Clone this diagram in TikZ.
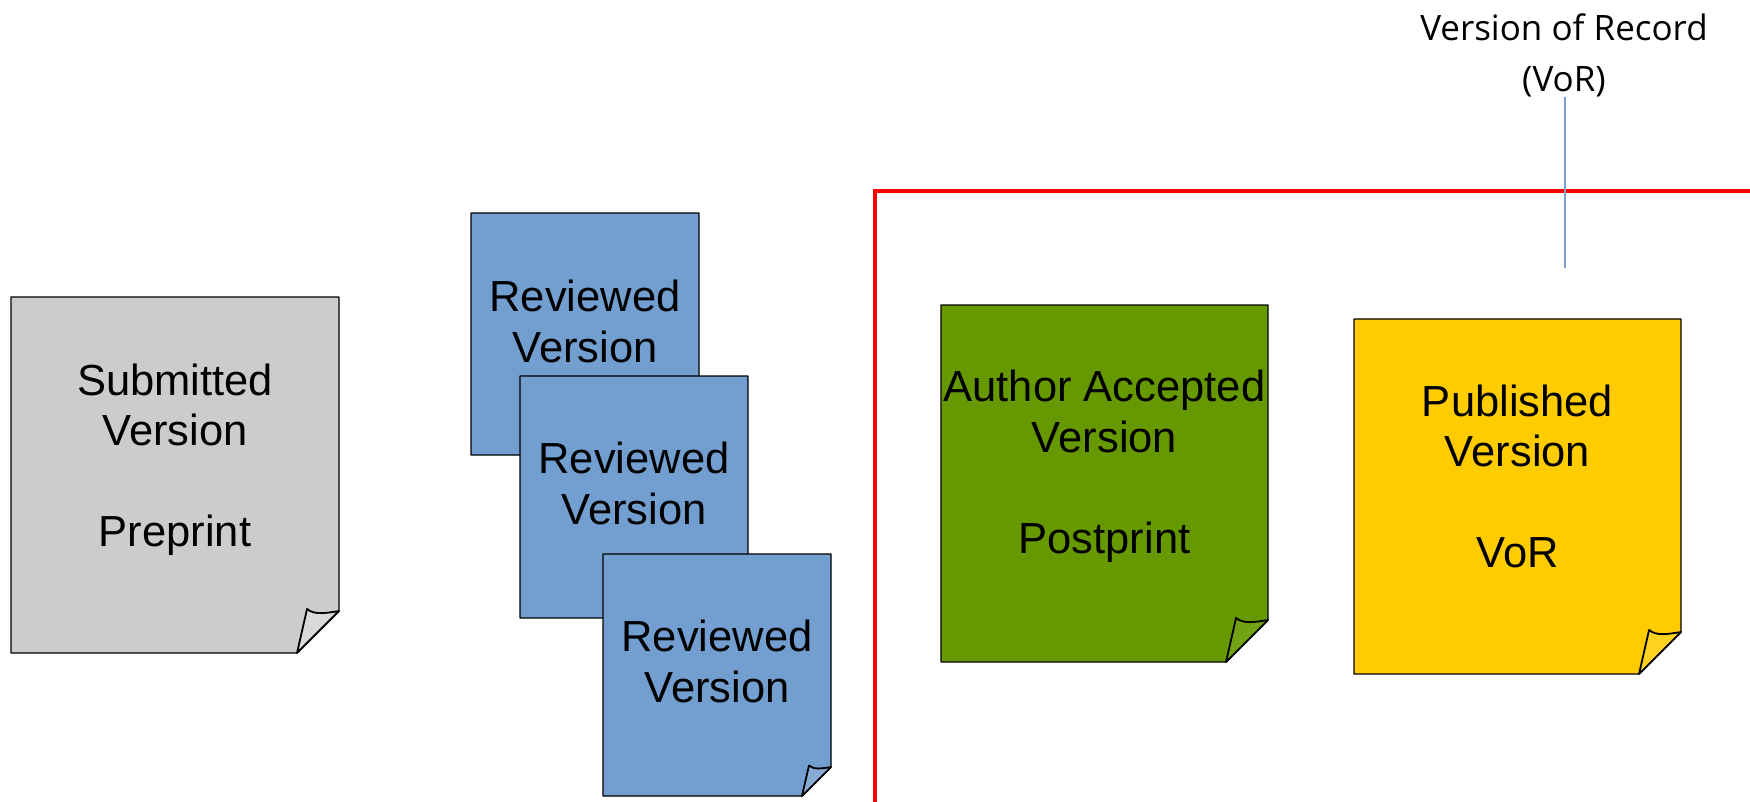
\documentclass[tikz,border=0pt]{standalone}
\usepackage{fontspec}
\setmainfont{Liberation Sans}
\newfontfamily\vorfont{Open Sans}
\definecolor{pagegray}{RGB}{204,204,204}
\definecolor{pageblue}{RGB}{114,159,207}
\definecolor{pagegreen}{RGB}{102,153,0}
\definecolor{pageyellow}{RGB}{255,204,0}
\definecolor{framered}{RGB}{255,0,0}
\definecolor{vorblue}{RGB}{122,160,210}
\newcommand\docpage[7]{% #1 L, #2 T, #3 R, #4 B, #5 fold, #6 fill, #7 curl fill
  \path[pageline,fill=#6] (#1,#2) -- (#3,#2) -- (#3,#4-#5) -- (#3-#5,#4) -- (#1,#4) -- cycle;
  \path[curlline,fill=#7] (#3-#5,#4) -- (#3-0.76*#5,#4-1.05*#5)
     .. controls (#3-0.6*#5,#4-0.9*#5) and (#3-0.3*#5,#4-0.95*#5) .. (#3,#4-#5) -- cycle;
}
\begin{document}
\begin{tikzpicture}[x=1pt,y=-1pt,
  pageline/.style={draw=black,line width=1.3pt,line join=round},
  curlline/.style={draw=black,line width=1.8pt,line join=round},
  pagetext/.style={font=\fontsize{43.5}{50.5}\selectfont,align=center,inner sep=0pt,text=black},
  vortext/.style={font=\vorfont\fontsize{35}{51}\selectfont,align=center,inner sep=0pt,text=black},
  redframe/.style={draw=framered,line width=4.5pt},
  vorline/.style={draw=vorblue,line width=1.6pt}]
\useasboundingbox (0,0) rectangle (1750,801);
\fill[white] (0,0) rectangle (1750,801);
\begin{scope}
  \clip (0,0) rectangle (1750,801);
  \draw[redframe] (875,191) rectangle (1790,840);
\end{scope}
% Submitted
\docpage{11}{297}{339}{653}{42}{pagegray}{pagegray!75!white}
\node[pagetext] (submitted) at (175,461) {\strut Submitted\\\strut Version\\\strut\\\strut Preprint};
% Reviewed 1
\docpage{471}{213}{699}{455}{29}{pageblue}{pageblue!85!white}
\node[pagetext] (reviewedA) at (585,327) {\strut Reviewed\\\strut Version};
% Reviewed 2
\docpage{520}{376}{748}{618}{29}{pageblue}{pageblue!85!white}
\node[pagetext] (reviewedB) at (634,489) {\strut Reviewed\\\strut Version};
% Reviewed 3
\docpage{603}{554}{831}{796}{29}{pageblue}{pageblue!85!white}
\node[pagetext] (reviewedC) at (717,667) {\strut Reviewed\\\strut Version};
% Author accepted
\docpage{941}{305}{1268}{662}{42}{pagegreen}{pagegreen!92!white}
\node[pagetext] (aam) at (1104.5,467.5) {\strut Author Accepted\\\strut Version\\\strut\\\strut Postprint};
% Published
\docpage{1354}{319}{1681}{674}{42}{pageyellow}{pageyellow!88!white}
\node[pagetext] (published) at (1517.5,482) {\strut Published\\\strut Version\\\strut\\\strut VoR};
% Version of Record label
\node[vortext,anchor=south] (vor) at (1564,97) {Version of Record\\(VoR)};
\coordinate (vorend) at (1565,268);
\draw[vorline] (vor.south -| vorend) -- (vorend);
\end{tikzpicture}
\end{document}
